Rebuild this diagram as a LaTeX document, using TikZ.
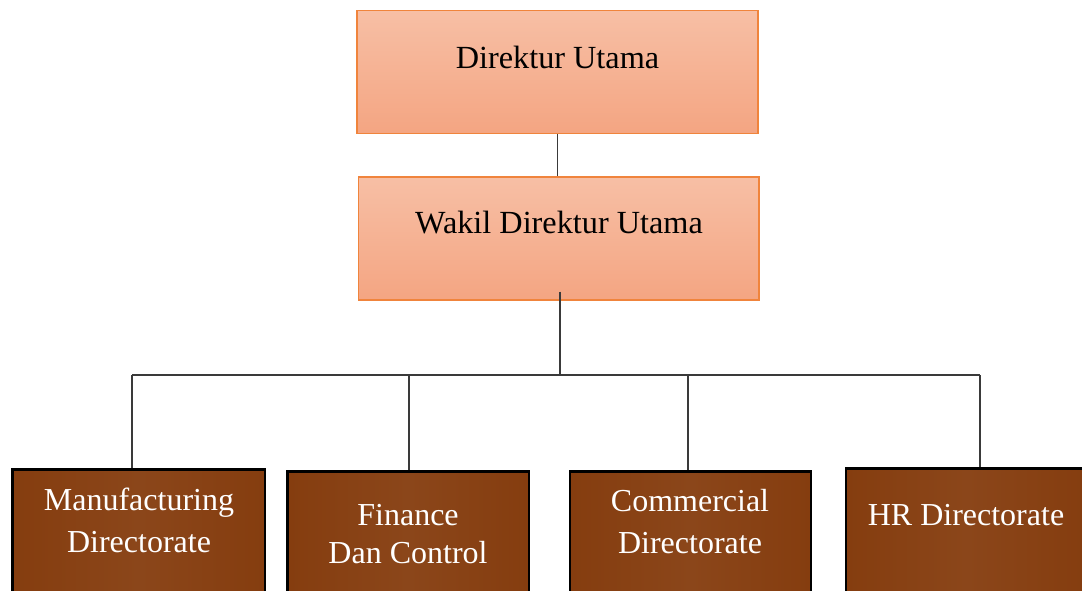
\documentclass[tikz,border=0pt]{standalone}
\usepackage{fontspec}
\setmainfont{Liberation Serif}
\usetikzlibrary{calc}
\definecolor{salTop}{HTML}{F7BFA5}
\definecolor{salBot}{HTML}{F4A582}
\definecolor{salLine}{HTML}{F0843C}
\definecolor{brownA}{HTML}{853D0F}
\definecolor{brownB}{HTML}{8B461A}
\definecolor{connc}{HTML}{3A3A3A}
\tikzset{
  topbox/.style={draw=salLine, line width=1.1pt, top color=salTop, bottom color=salBot,
    minimum height=92.25pt, inner sep=0pt},
  dirbox/.style={draw=black, line width=2pt, left color=brownA, right color=brownA,
    middle color=brownB, minimum height=106.5pt, inner sep=0pt, anchor=north},
  toplabel/.style={font=\fontsize{24.2}{29}\selectfont, anchor=base, inner sep=0pt},
  dirlabel/.style={font=\fontsize{24}{31}\selectfont, text=white, align=center, anchor=base, inner sep=0pt},
  conn/.style={draw=connc, line width=0.9pt},
}
\begin{document}
\begin{tikzpicture}[x=0.75pt,y=-0.75pt]
\useasboundingbox[clip] (0,0) rectangle (1082,590);
\fill[white] (0,0) rectangle (1082,590);

% top boxes
\node[topbox, minimum width=300.75pt] (dir) at (557.5,72) {};
\node[toplabel] (dirT) at (557.5,68) {Direktur Utama};
\node[topbox, minimum width=300.4pt] (wakil) at (558.75,238.5) {};
\node[toplabel] (wakilT) at (559,233) {Wakil Direktur Utama};

% directorates
\node[dirbox, minimum width=189.4pt] (mfg) at (138.75,468) {};
\node[dirbox, minimum width=181.1pt] (fin) at (408.25,470) {};
\node[dirbox, minimum width=180.75pt] (com) at (690.5,470) {};
\node[dirbox, minimum width=180.75pt] (hr) at (966.5,467) {};

\node[dirlabel] (mfgT) at (139,552) {Manufacturing\\Directorate};
\node[dirlabel, font=\fontsize{24}{28.5}\selectfont] (finT) at (408,563) {Finance\\Dan Control};
\node[dirlabel] (comT) at (690,553) {Commercial\\Directorate};
\node[dirlabel] (hrT) at (966,525) {HR Directorate};

% connectors
\draw[conn] (dir.south) -- (dir.south |- wakil.north);
\coordinate (busC) at (560,375);
\coordinate (bL) at (132,375);
\coordinate (bF) at (409,375);
\coordinate (bC) at (688,375);
\coordinate (bR) at (980,375);
\draw[conn] ($(wakil.south)+(1.25,-9)$) -- (busC);
\draw[conn] (bL) -- (bR);
\draw[conn] (bL) -- (132,0 |- mfg.north);
\draw[conn] (bF) -- (409,0 |- fin.north);
\draw[conn] (bC) -- (688,0 |- com.north);
\draw[conn] (bR) -- (980,0 |- hr.north);
\end{tikzpicture}
\end{document}
